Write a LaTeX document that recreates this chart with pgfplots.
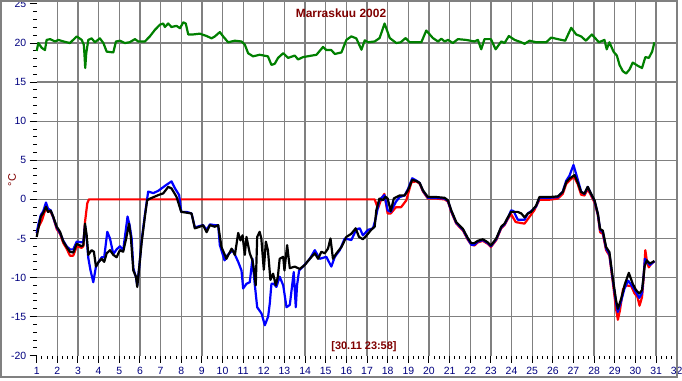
\documentclass[border=0pt]{standalone}
\usepackage{pgfplots}
\pgfplotsset{compat=1.18}
\usepackage{fontspec}
\setmainfont{Liberation Sans}
\definecolor{navy}{RGB}{0,0,128}
\definecolor{maroon}{RGB}{128,0,0}
\definecolor{gridgray}{RGB}{128,128,128}
\definecolor{dgreen}{RGB}{0,128,0}
\begin{document}
\begin{tikzpicture}[x=1bp,y=1bp]
\path[use as bounding box, fill=white] (0,0) rectangle (682,380);
\begin{axis}[
  at={(36.7bp,24.3bp)}, anchor=south west, scale only axis,
  width=640bp, height=354.7bp,
  xmin=1, xmax=32, ymin=-20, ymax=25.38,
  axis x line*=bottom, axis y line*=left,
  axis line style={draw=none},
  xtick={1,...,32}, ytick={-20,-15,...,25},
  minor x tick num=3, minor y tick num=4,
  tick align=outside,
  major tick length=7bp, minor tick length=3.5bp,
  tick style={black, line width=1bp},
  ticklabel style={font=\fontsize{10.5}{12}\selectfont, text=navy},
  xticklabel style={yshift=-1bp},
  /pgf/number format/assume math mode=true,
  extra x ticks={2,...,31}, extra x tick labels={},
  extra x tick style={xmajorgrids=true, major tick length=0pt},
  extra y ticks={-15,-10,...,20}, extra y tick labels={},
  extra y tick style={ymajorgrids=true, major tick length=0pt},
  major grid style={gridgray, line width=1.3bp},
  clip=false,
  every axis plot/.append style={line width=2.2bp, line join=round, mark=none},
]
% green
\addplot[dgreen] coordinates {(1.0,19.0) (1.08,20.0) (1.24,19.4) (1.4,19.1) (1.48,20.4) (1.65,20.5) (1.89,20.2) (2.05,20.4) (2.3,20.2) (2.61,20.0) (2.94,20.85) (3.18,20.4) (3.28,19.8) (3.31,18.7) (3.35,16.8) (3.4,18.7) (3.5,20.4) (3.66,20.6) (3.82,20.1) (4.06,20.6) (4.23,20.0) (4.39,18.9) (4.71,18.8) (4.84,20.2) (5.03,20.3) (5.27,20.0) (5.5,20.1) (5.76,20.5) (5.92,20.2) (6.24,20.2) (6.48,20.85) (6.73,21.7) (6.97,22.35) (7.13,22.5) (7.21,22.05) (7.37,22.5) (7.53,22.05) (7.77,22.2) (7.94,21.9) (8.1,22.65) (8.22,22.5) (8.34,21.1) (8.58,21.1) (8.9,21.2) (9.23,20.9) (9.47,20.6) (9.63,20.85) (9.87,21.4) (10.03,20.85) (10.27,20.1) (10.6,20.3) (10.92,20.2) (11.08,19.8) (11.24,18.7) (11.48,18.3) (11.8,18.5) (12.2,18.3) (12.37,17.2) (12.53,17.35) (12.69,18.1) (12.94,18.7) (13.18,18.1) (13.5,18.4) (13.66,17.9) (13.9,18.2) (14.55,18.5) (14.87,19.5) (15.03,19.1) (15.27,19.1) (15.44,18.6) (15.76,18.8) (16.0,20.4) (16.24,20.85) (16.48,20.6) (16.73,19.15) (16.89,20.35) (17.05,20.1) (17.37,20.2) (17.61,20.64) (17.85,22.5) (18.1,20.64) (18.42,20.0) (18.63,20.1) (18.87,20.64) (19.06,20.1) (19.63,20.1) (19.87,21.6) (20.19,20.64) (20.44,20.2) (20.6,20.55) (20.76,20.2) (20.92,20.4) (21.16,20.0) (21.4,20.5) (21.8,20.4) (22.2,20.2) (22.37,20.4) (22.53,19.2) (22.69,20.5) (23.0,20.5) (23.23,19.2) (23.5,20.2) (23.66,20.0) (23.87,20.9) (24.15,20.4) (24.47,20.1) (24.63,19.9) (24.87,20.3) (25.19,20.1) (25.68,20.1) (25.92,20.7) (26.24,20.5) (26.6,20.3) (26.89,21.95) (27.13,21.1) (27.37,20.85) (27.6,20.3) (27.89,21.1) (28.23,20.1) (28.5,20.4) (28.61,19.2) (28.74,20.1) (28.94,18.9) (29.1,18.4) (29.23,17.2) (29.39,16.4) (29.55,16.1) (29.71,16.6) (29.87,17.5) (30.11,17.1) (30.32,16.8) (30.48,18.2) (30.65,18.1) (30.81,18.9) (30.92,20.1)};
% red
\addplot[red] coordinates {(1.0,-4.3) (1.1,-3.5) (1.25,-2.7) (1.4,-1.5) (1.55,-1.3) (1.68,-1.6) (1.8,-2.3) (1.97,-3.8) (2.13,-4.4) (2.29,-5.6) (2.45,-6.3) (2.61,-7.2) (2.77,-7.2) (2.94,-6.0) (3.18,-6.2) (3.26,-6.0) (3.34,-2.9) (3.45,-0.5) (3.53,0) (17.37,0) (17.53,-1.15) (17.7,0.1) (17.84,0.7) (18.0,-1.8) (18.15,-1.8) (18.4,-1.0) (18.65,-1.0) (18.9,-0.13) (19.15,2.2) (19.39,2.3) (19.55,2.0) (19.71,1.0) (19.95,0.1) (20.35,0.1) (20.76,0.0) (20.92,-0.3) (21.08,-1.6) (21.32,-3.1) (21.65,-4.0) (21.89,-5.2) (22.05,-5.8) (22.2,-5.9) (22.37,-5.5) (22.61,-5.3) (22.85,-5.7) (23.0,-6.1) (23.26,-5.2) (23.5,-3.7) (23.66,-3.3) (23.82,-2.5) (23.98,-1.9) (24.2,-2.9) (24.4,-3.0) (24.63,-3.1) (24.85,-2.3) (25.1,-1.4) (25.35,-0.04) (25.84,-0.04) (26.24,0.1) (26.48,0.7) (26.65,2.0) (26.8,2.4) (27.02,2.9) (27.2,2.0) (27.37,0.6) (27.53,0.5) (27.69,1.3) (27.85,0.5) (28.02,-0.4) (28.18,-2.0) (28.29,-4.2) (28.42,-4.4) (28.58,-6.5) (28.74,-7.2) (28.9,-10.5) (29.06,-14.0) (29.15,-15.4) (29.25,-14.2) (29.4,-11.5) (29.55,-11.0) (29.8,-11.1) (29.95,-12.0) (30.1,-12.5) (30.2,-13.6) (30.32,-12.5) (30.4,-10.0) (30.48,-6.5) (30.56,-8.0) (30.65,-8.7) (30.75,-8.3) (30.92,-7.9)};
% blue
\addplot[blue] coordinates {(1.0,-4.3) (1.08,-3.2) (1.2,-2.0) (1.32,-1.5) (1.45,-0.4) (1.55,-1.2) (1.68,-1.4) (1.8,-2.3) (1.97,-3.6) (2.13,-4.3) (2.29,-5.3) (2.45,-6.0) (2.61,-6.4) (2.77,-6.4) (2.94,-5.4) (3.18,-5.5) (3.26,-5.4) (3.34,-3.3) (3.42,-5.0) (3.5,-7.5) (3.6,-9.0) (3.74,-10.6) (3.87,-8.6) (4.0,-8.0) (4.15,-7.4) (4.27,-7.4) (4.42,-4.15) (4.55,-5.0) (4.71,-7.0) (4.87,-6.4) (5.03,-6.0) (5.19,-6.5) (5.4,-2.2) (5.5,-3.3) (5.6,-5.0) (5.68,-8.8) (5.81,-10.0) (5.87,-11.0) (5.97,-8.6) (6.08,-5.3) (6.24,-2.0) (6.4,1.0) (6.65,0.8) (6.89,1.1) (7.25,1.8) (7.53,2.3) (7.7,1.4) (7.9,0.55) (8.0,-1.6) (8.26,-1.6) (8.5,-1.8) (8.66,-3.6) (8.9,-3.4) (9.06,-3.3) (9.23,-3.9) (9.39,-3.2) (9.63,-3.3) (9.79,-3.3) (9.87,-5.85) (10.1,-7.8) (10.25,-7.1) (10.5,-6.5) (10.76,-8.0) (10.92,-9.1) (11.0,-11.4) (11.16,-10.8) (11.32,-10.6) (11.45,-7.6) (11.56,-10.8) (11.68,-13.8) (11.89,-14.6) (12.05,-16.1) (12.21,-15.0) (12.29,-13.3) (12.37,-10.8) (12.48,-10.8) (12.61,-11.2) (12.77,-9.9) (12.94,-11.0) (13.1,-13.8) (13.26,-13.5) (13.45,-9.3) (13.55,-13.8) (13.61,-11.0) (13.71,-9.1) (13.9,-8.6) (14.23,-7.6) (14.47,-6.5) (14.71,-7.6) (15.03,-7.35) (15.27,-8.6) (15.44,-7.35) (15.68,-6.5) (15.92,-5.0) (16.24,-5.2) (16.48,-3.85) (16.65,-3.7) (16.8,-4.6) (17.05,-3.9) (17.29,-3.7) (17.4,-2.65) (17.6,-0.1) (17.84,0.55) (18.0,-1.4) (18.15,-1.6) (18.4,-0.3) (18.58,0.3) (18.82,0.5) (18.98,1.3) (19.19,2.7) (19.39,2.4) (19.55,2.1) (19.71,1.1) (19.95,0.2) (20.35,0.2) (20.76,0.1) (20.92,-0.2) (21.08,-1.5) (21.32,-3.0) (21.65,-3.9) (21.89,-5.1) (22.05,-5.8) (22.2,-5.8) (22.37,-5.4) (22.61,-5.2) (22.85,-5.6) (23.0,-6.0) (23.26,-5.1) (23.5,-3.6) (23.66,-3.2) (23.82,-2.4) (23.98,-1.4) (24.1,-1.5) (24.3,-2.6) (24.47,-2.6) (24.63,-2.6) (24.79,-1.8) (24.95,-1.5) (25.19,-0.9) (25.35,0.2) (25.84,0.2) (26.24,0.3) (26.48,1.0) (26.65,2.4) (26.8,3.0) (27.0,4.4) (27.2,2.6) (27.37,1.0) (27.53,0.7) (27.69,1.6) (27.85,0.7) (28.02,-0.2) (28.18,-1.9) (28.29,-3.9) (28.42,-4.2) (28.58,-6.3) (28.74,-7.0) (28.9,-10.2) (29.06,-13.2) (29.15,-14.4) (29.31,-13.0) (29.47,-11.4) (29.65,-10.4) (29.87,-11.2) (30.03,-11.9) (30.19,-12.6) (30.32,-12.0) (30.39,-10.0) (30.46,-7.6) (30.6,-8.1) (30.7,-8.4) (30.92,-7.9)};
% black
\addplot[black] coordinates {(1.0,-4.8) (1.08,-3.7) (1.2,-2.2) (1.32,-1.7) (1.45,-0.94) (1.55,-1.6) (1.68,-1.45) (1.8,-2.2) (1.97,-3.5) (2.13,-4.15) (2.29,-5.4) (2.45,-6.1) (2.61,-6.7) (2.77,-6.8) (2.94,-5.7) (3.18,-6.0) (3.26,-5.85) (3.34,-3.1) (3.42,-4.6) (3.5,-7.1) (3.66,-6.5) (3.77,-6.7) (3.87,-8.6) (4.0,-8.0) (4.15,-7.6) (4.27,-8.0) (4.39,-6.9) (4.55,-6.5) (4.71,-7.1) (4.87,-7.4) (5.03,-6.5) (5.19,-6.7) (5.35,-4.8) (5.47,-3.1) (5.56,-4.8) (5.68,-9.1) (5.81,-9.9) (5.87,-11.2) (5.97,-8.6) (6.08,-5.6) (6.24,-2.2) (6.35,-0.1) (6.52,0.13) (6.89,0.55) (7.13,0.77) (7.37,1.6) (7.53,1.4) (7.77,0.34) (8.0,-1.6) (8.26,-1.7) (8.5,-1.8) (8.66,-3.7) (8.9,-3.5) (9.06,-3.3) (9.23,-4.2) (9.39,-3.3) (9.63,-3.5) (9.79,-3.3) (9.95,-6.1) (10.19,-7.6) (10.44,-6.3) (10.6,-7.1) (10.76,-4.3) (10.87,-5.25) (10.97,-4.6) (11.08,-7.1) (11.16,-4.8) (11.32,-6.9) (11.45,-7.8) (11.52,-9.0) (11.61,-11.0) (11.68,-4.8) (11.8,-4.15) (11.88,-5.0) (12.0,-9.0) (12.1,-5.4) (12.2,-6.5) (12.32,-10.3) (12.45,-9.5) (12.58,-11.0) (12.68,-9.9) (12.77,-7.6) (12.94,-7.35) (13.0,-9.1) (13.13,-5.85) (13.26,-8.8) (13.5,-8.6) (13.74,-8.9) (13.98,-8.4) (14.23,-7.6) (14.47,-6.9) (14.63,-7.6) (14.79,-6.7) (14.95,-6.9) (15.11,-6.3) (15.23,-5.0) (15.35,-7.6) (15.52,-6.9) (15.76,-6.1) (16.0,-4.8) (16.24,-4.4) (16.45,-3.7) (16.61,-4.8) (16.8,-5.1) (16.95,-4.7) (17.2,-3.9) (17.37,-3.5) (17.45,-1.4) (17.6,0.1) (17.77,-0.1) (17.9,0.34) (18.0,0.09) (18.15,-1.5) (18.3,0.13) (18.58,0.5) (18.82,0.5) (18.98,1.15) (19.19,2.5) (19.39,2.35) (19.55,2.1) (19.71,1.15) (19.95,0.3) (20.35,0.3) (20.76,0.2) (20.92,-0.13) (21.08,-1.4) (21.32,-2.9) (21.65,-3.8) (21.89,-5.0) (22.05,-5.6) (22.2,-5.6) (22.37,-5.3) (22.61,-5.1) (22.85,-5.5) (23.0,-5.9) (23.26,-5.0) (23.5,-3.5) (23.66,-3.1) (23.82,-2.3) (23.98,-1.6) (24.3,-1.6) (24.47,-1.8) (24.63,-2.3) (24.79,-1.8) (24.95,-1.6) (25.19,-0.8) (25.35,0.3) (25.84,0.3) (26.24,0.38) (26.48,0.94) (26.65,2.2) (26.8,2.65) (27.05,3.1) (27.2,2.2) (27.37,0.94) (27.53,0.73) (27.69,1.6) (27.85,0.73) (28.02,-0.13) (28.18,-1.8) (28.29,-3.8) (28.42,-4.0) (28.58,-6.1) (28.74,-6.75) (28.9,-10.0) (29.06,-12.9) (29.15,-14.0) (29.31,-12.7) (29.47,-11.0) (29.68,-9.4) (29.87,-10.8) (30.03,-11.6) (30.19,-12.05) (30.32,-11.6) (30.39,-10.0) (30.44,-8.6) (30.55,-7.8) (30.7,-8.2) (30.92,-7.9)};
\end{axis}
\draw[gridgray, line width=1.5bp] (1,3) rectangle (677,379);
\node[text=maroon, font=\bfseries\fontsize{12}{14}\selectfont] at (341,367) {Marraskuu 2002};
\node[text=maroon, font=\bfseries\fontsize{11}{13}\selectfont] at (364,33) {[30.11 23:58]};
\node[text=maroon, rotate=90, font=\fontsize{11}{13}\selectfont] at (12,200) {°C};
\end{tikzpicture}
\end{document}
